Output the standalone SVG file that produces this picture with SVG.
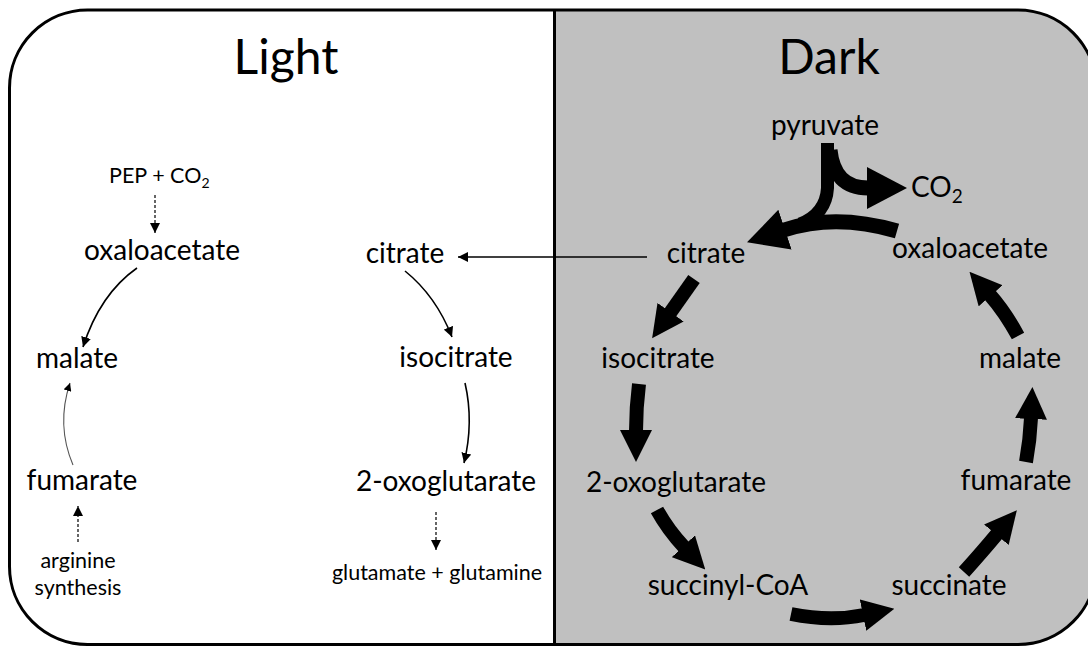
<svg xmlns="http://www.w3.org/2000/svg" width="1088" height="646" viewBox="0 0 1088 646">
  <style>
    text { font-family: Lato, "Open Sans", sans-serif; fill: #000; }
    .title { font-size: 48px; text-anchor: middle; }
    .lbl { font-size: 28px; text-anchor: middle; }
    .sm { font-size: 21.5px; text-anchor: middle; }
    .thin { fill: none; stroke: #000; stroke-width: 1.6; }
    .dash { fill: none; stroke: #000; stroke-width: 1.2; stroke-dasharray: 3 2; }
    .grey { fill: none; stroke: #555; stroke-width: 1.1; }
    .thick { fill: none; stroke: #000; stroke-width: 14; }
  </style>
  <defs>
    <clipPath id="frameClip">
      <rect x="9.5" y="10" width="1086.5" height="634.5" rx="78" ry="78"/>
    </clipPath>
    <marker id="tip" viewBox="0 0 10 10" refX="10" refY="5" markerWidth="10" markerHeight="10" markerUnits="userSpaceOnUse" orient="auto">
      <path d="M0,0 L10,5 L0,10 z" fill="#000"/>
    </marker>
    <marker id="tipS" viewBox="0 0 10 10" refX="10" refY="5" markerWidth="8" markerHeight="8" markerUnits="userSpaceOnUse" orient="auto">
      <path d="M0,0 L10,5 L0,10 z" fill="#000"/>
    </marker>
    <marker id="big" viewBox="0 0 32 32" refX="1" refY="16" markerWidth="32" markerHeight="32" markerUnits="userSpaceOnUse" orient="auto">
      <path d="M0,0 L32,16 L0,32 z" fill="#000"/>
    </marker>
    <marker id="huge" viewBox="0 0 40 42" refX="1" refY="21" markerWidth="40" markerHeight="42" markerUnits="userSpaceOnUse" orient="auto">
      <path d="M0,0 L40,21 L0,42 z" fill="#000"/>
    </marker>
  </defs>

  <!-- frame: light half, dark half, outline and divider -->
  <g id="frame">
    <rect x="0" y="0" width="1088" height="646" fill="#fff"/>
    <g clip-path="url(#frameClip)">
      <rect x="9" y="9" width="546" height="640" fill="#fff"/>
      <rect x="555" y="9" width="545" height="640" fill="#c0c0c0"/>
    </g>
    <rect x="9.5" y="10" width="1086.5" height="634.5" rx="78" ry="78" fill="none" stroke="#000" stroke-width="3"/>
    <line x1="554.5" y1="10" x2="554.5" y2="645" stroke="#000" stroke-width="3"/>
  </g>

  <g id="title-light"><text class="title" x="286" y="74">Light</text></g>
  <g id="title-dark"><text class="title" x="829" y="74">Dark</text></g>

  <g id="connectors">
    <!-- light side -->
    <path class="dash" d="M155,195 L155,233" marker-end="url(#tip)"/>
    <path class="thin" d="M137,268 Q100,294 83,347" marker-end="url(#tip)"/>
    <path class="grey" d="M73,465 Q56,425 70,383" marker-end="url(#tipS)"/>
    <path class="dash" d="M78,542 L78,506" marker-end="url(#tip)"/>
    <path class="thin" d="M647,257 L458,257" marker-end="url(#tip)"/>
    <path class="thin" d="M405,271 Q436,296 452,337" marker-end="url(#tip)"/>
    <path class="thin" d="M465,383 Q474,422 464,463" marker-end="url(#tip)"/>
    <path class="dash" d="M436,512 L436,550" marker-end="url(#tip)"/>

    <!-- dark side: pyruvate split and the cycle -->
    <path class="thick" style="stroke-width:15" d="M830,150 Q834,188 868,188" marker-end="url(#huge)"/>
    <path class="thick" style="stroke-width:13" d="M827.5,143 L827.5,188 Q826,214 800,224"/>
    <path class="thick" style="stroke-width:15" d="M897,231 Q835,213 784,230" marker-end="url(#huge)"/>
    <path class="thick" d="M694,279 Q682,296 670,313" marker-end="url(#big)"/>
    <path class="thick" d="M639,384 Q636,408 636,431" marker-end="url(#big)"/>
    <path class="thick" d="M657,510 Q668,530 684,547" marker-end="url(#big)"/>
    <path class="thick" d="M791,614 Q830,622 864,615" marker-end="url(#big)"/>
    <path class="thick" d="M964,572 Q982,552 997,534" marker-end="url(#big)"/>
    <path class="thick" d="M1026,462 Q1030,440 1031,418" marker-end="url(#big)"/>
    <path class="thick" d="M1018,336 Q1005,312 990,295" marker-end="url(#big)"/>
  </g>

  <!-- light side metabolites -->
  <g id="pep-co2"><text class="sm" x="109" y="183" style="text-anchor:start">PEP + CO<tspan font-size="14" dy="5">2</tspan></text></g>
  <g id="oxaloacetate-light"><text class="lbl" x="162" y="260">oxaloacetate</text></g>
  <g id="malate-light"><text class="lbl" x="77" y="368">malate</text></g>
  <g id="fumarate-light"><text class="lbl" x="82" y="490">fumarate</text></g>
  <g id="arginine-synthesis"><text class="sm" x="78" y="568">arginine</text><text class="sm" x="78" y="595">synthesis</text></g>
  <g id="citrate-light"><text class="lbl" x="405" y="263">citrate</text></g>
  <g id="isocitrate-light"><text class="lbl" x="456" y="367">isocitrate</text></g>
  <g id="oxoglutarate-light"><text class="lbl" x="446" y="491">2-oxoglutarate</text></g>
  <g id="glutamate-glutamine"><text class="sm" x="437" y="580">glutamate + glutamine</text></g>

  <!-- dark side metabolites -->
  <g id="pyruvate"><text class="lbl" x="825" y="135">pyruvate</text></g>
  <g id="co2-dark"><text class="lbl" x="911" y="197" style="text-anchor:start">CO<tspan font-size="19" dy="6">2</tspan></text></g>
  <g id="citrate-dark"><text class="lbl" x="706" y="263">citrate</text></g>
  <g id="oxaloacetate-dark"><text class="lbl" x="970" y="258">oxaloacetate</text></g>
  <g id="isocitrate-dark"><text class="lbl" x="658" y="368">isocitrate</text></g>
  <g id="malate-dark"><text class="lbl" x="1020" y="368">malate</text></g>
  <g id="oxoglutarate-dark"><text class="lbl" x="676" y="492">2-oxoglutarate</text></g>
  <g id="fumarate-dark"><text class="lbl" x="1016" y="490">fumarate</text></g>
  <g id="succinyl-coa"><text class="lbl" x="728" y="595">succinyl-CoA</text></g>
  <g id="succinate"><text class="lbl" x="949" y="595">succinate</text></g>
</svg>
